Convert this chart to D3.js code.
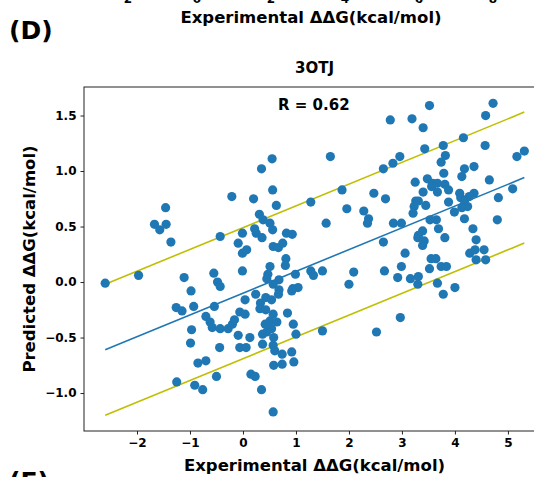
<!DOCTYPE html>
<html>
<head>
<meta charset="utf-8">
<script src="https://cdn.jsdelivr.net/npm/d3@7"></script>
<style>
	body { margin: 0; background: #fff; }
	svg { display: block; font-family: "DejaVu Sans", sans-serif; font-weight: bold; }
</style>
</head>
<body>
<script>

// experimental vs predicted ddG
var expX = [
	-2.60, -1.97, -1.46, -1.67, -1.57, -1.45, -1.36, -0.21, -0.43, -0.09,
	-0.01, -0.01, -0.01, -1.11, -0.55, -0.48, -0.43, -0.98, -1.26, -1.15,
	-0.93, -0.54, -0.70, -0.62, -0.58, -0.43, -0.28, -0.20, -0.16, -0.06,
	-0.09, -0.06, -0.97, -0.99, -0.44, -0.85, -0.70, -0.50, -1.25, -0.91,
	-0.76,
	0.55, 0.35, 0.56, 0.20, 0.63, 1.28, 0.31, 0.38, 0.51, 0.22,
	0.56, 0.25, 0.36, 0.82, 0.93, 0.57, 0.67, 0.75, 0.07, 0.81,
	0.80, 0.51, 0.47, 0.45, 0.68, 0.57, 0.68, 0.99, 1.28, 1.33,
	0.94, 1.04, 0.92,
	0.04, 0.04, 0.24, 0.43, 0.33, 0.54, 0.67, 0.32, 0.43, 0.57,
	0.51, 0.64, 0.42, 0.84, 0.95, 1.00, 0.54, 0.45, 0.37, 0.58,
	0.13, 0.06, 0.57, 0.37, 0.60, 0.74, 0.92, 0.58, 0.74, 0.96,
	0.15, 0.23, 0.35, 0.57,
	2.78, 3.19, 1.65, 2.96, 2.83, 2.65, 3.25, 3.26, 3.23, 3.21,
	1.87, 2.47, 2.69, 1.96, 2.28, 2.37, 2.35, 1.57, 2.84, 2.99,
	2.65, 3.30, 3.06, 2.99, 1.50, 2.09, 2.00, 2.67, 2.92, 3.16,
	3.30, 2.97, 1.50, 2.52, 3.31,
	4.72, 3.52, 4.58, 3.40, 4.16, 4.57, 3.78, 3.43, 5.31, 5.17,
	3.82, 3.74, 4.36, 4.18, 4.13, 3.79, 4.65, 3.48, 3.58, 3.67,
	3.81, 3.56, 3.67, 3.88, 3.40, 5.09, 4.09, 4.36, 4.27, 4.82,
	4.11, 4.18, 3.31, 3.88, 3.45, 4.24, 4.13, 3.99, 4.18, 3.53,
	3.65, 4.80, 3.69, 4.34, 3.39, 3.31, 3.81, 4.40, 3.42, 3.39,
	4.28, 4.38, 4.55, 4.40, 4.58, 3.55, 3.64, 3.74, 3.84, 3.52,
	3.67, 4.00, 3.78
];

var predY = [
	-0.01, 0.06, 0.67, 0.52, 0.47, 0.52, 0.36, 0.77, 0.41, 0.35,
	0.44, 0.26, 0.10, 0.04, 0.08, 0.00, -0.04, -0.08, -0.23, -0.26,
	-0.22, -0.22, -0.31, -0.36, -0.41, -0.42, -0.42, -0.38, -0.34, -0.27,
	-0.48, -0.59, -0.43, -0.55, -0.59, -0.73, -0.71, -0.85, -0.90, -0.93,
	-0.97,
	1.11, 1.02, 0.83, 0.75, 0.69, 0.72, 0.61, 0.56, 0.53, 0.48,
	0.47, 0.44, 0.40, 0.44, 0.43, 0.32, 0.31, 0.35, 0.29, 0.21,
	0.15, 0.14, 0.07, 0.03, 0.02, -0.02, -0.07, 0.07, 0.10, 0.06,
	-0.06, -0.05, -0.08,
	-0.16, -0.29, -0.11, -0.14, -0.19, -0.16, -0.11, -0.24, -0.25, -0.29,
	-0.35, -0.36, -0.38, -0.28, -0.38, -0.47, -0.42, -0.45, -0.47, -0.50,
	-0.50, -0.59, -0.57, -0.56, -0.62, -0.65, -0.63, -0.75, -0.74, -0.72,
	-0.83, -0.85, -0.97, -1.17,
	1.46, 1.47, 1.13, 1.13, 1.07, 1.02, 0.90, 0.73, 0.68, 0.62,
	0.83, 0.80, 0.75, 0.66, 0.64, 0.57, 0.53, 0.53, 0.53, 0.53,
	0.36, 0.40, 0.26, 0.14, 0.10, 0.09, -0.02, 0.10, 0.04, 0.03,
	-0.02, -0.32, -0.44, -0.45, 0.05,
	1.61, 1.59, 1.50, 1.39, 1.30, 1.23, 1.23, 1.20, 1.18, 1.13,
	1.14, 1.08, 1.04, 1.02, 0.95, 0.98, 0.92, 0.93, 0.89, 0.89,
	0.88, 0.86, 0.81, 0.83, 0.81, 0.84, 0.80, 0.80, 0.77, 0.76,
	0.76, 0.73, 0.73, 0.72, 0.69, 0.68, 0.67, 0.63, 0.57, 0.56,
	0.56, 0.56, 0.48, 0.48, 0.46, 0.42, 0.40, 0.38, 0.37, 0.33,
	0.26, 0.29, 0.29, 0.20, 0.20, 0.21, 0.21, 0.14, 0.14, 0.12,
	-0.01, -0.05, -0.11
];

var xTicks = [-2, -1, 0, 1, 2, 3, 4, 5];
var yTicks = [-1.0, -0.5, 0.0, 0.5, 1.0, 1.5];
var topTicks = [-2, 0, 2, 4, 6, 8];   // tick labels of the panel above (cut off)

var fitCoef = [0.196, -0.100];   // slope, intercept
var band = 0.59;

var panelTitle = '3OTJ',
	rText = 'R = 0.62',
	xLabel = 'Experimental ΔΔG(kcal/mol)',
	yLabel = 'Predicted ΔΔG(kcal/mol)';


var margin = {
	top: 87,
	left: 84
};

var width = 461,
	height = 344;

var svg = d3.select('body').append('svg')
	.attr('width', 534)
	.attr('height', 477);


// remains of the panel above
var xTop = d3.scaleLinear().domain([0, 8]).range([197, 493]);

svg.selectAll('.topTick')
	.data(topTicks)
	.enter().append('text')
		.attr('class', 'topTick')
		.attr('x', function(d) { return xTop(d); })
		.attr('y', 3)
		.attr('text-anchor', 'middle')
		.style('font-size', '12px')
		.text(d3.format('d'));

svg.append('text')
	.attr('x', 311)
	.attr('y', 23)
	.attr('text-anchor', 'middle')
	.style('font-size', '16.5px')
	.text(xLabel);

svg.append('text')
	.attr('x', 9)
	.attr('y', 39)
	.style('font-size', '25px')
	.text('(D)');

svg.append('text')
	.attr('x', 9)
	.attr('y', 490)
	.style('font-size', '25px')
	.text('(E)');


var g = svg.append('g')
	.attr('transform', 'translate(' + margin.left + ',' + margin.top + ')');

var x = d3.scaleLinear().domain([-3.0, 5.7]).range([0, width]),
	y = d3.scaleLinear().domain([-1.342, 1.757]).range([height, 0]);


// fit line and the +/- band
var xMin = d3.min(expX),
	xMax = d3.max(expX);

var fitLine = d3.line()
	.x(function(d) { return x(d); });

[[band, '#bfbf00'], [0, '#1f77b4'], [-band, '#bfbf00']].forEach(function(s) {
	g.append('path')
		.datum([xMin, xMax])
		.attr('d', fitLine.y(function(d) { return y(fitCoef[0] * d + fitCoef[1] + s[0]); }))
		.style('fill', 'none')
		.style('stroke', s[1])
		.style('stroke-width', '1.6px');
});


g.selectAll('.dot')
	.data(expX)
	.enter().append('circle')
		.attr('class', 'dot')
		.attr('cx', function(d) { return x(d); })
		.attr('cy', function(d, i) { return y(predY[i]); })
		.attr('r', 4.6)
		.style('fill', '#1f77b4');


// axes
var xAxis = g.append('g')
	.attr('transform', 'translate(0,' + height + ')')
	.call(d3.axisBottom(x).tickValues(xTicks).tickFormat(d3.format('d')).tickSize(3.5).tickPadding(4));

var yAxis = g.append('g')
	.call(d3.axisLeft(y).tickValues(yTicks).tickFormat(d3.format('.1f')).tickSize(3.5).tickPadding(4));

[xAxis, yAxis].forEach(function(a) {
	a.select('.domain').remove();
	a.selectAll('line').style('stroke', '#222');
	a.selectAll('text')
		.style('font-family', '"DejaVu Sans", sans-serif')
		.style('font-weight', 'bold')
		.style('font-size', '12px')
		.style('fill', '#000');
});

g.append('rect')
	.attr('width', width)
	.attr('height', height)
	.style('fill', 'none')
	.style('stroke', '#222')
	.style('stroke-width', '1px');


svg.append('text')
	.attr('x', margin.left + width / 2)
	.attr('y', 471)
	.attr('text-anchor', 'middle')
	.style('font-size', '16.5px')
	.text(xLabel);

svg.append('text')
	.attr('transform', 'rotate(-90)')
	.attr('x', 0 - (margin.top + height / 2))
	.attr('y', 35)
	.attr('text-anchor', 'middle')
	.style('font-size', '16.5px')
	.text(yLabel);

svg.append('text')
	.attr('x', margin.left + width / 2)
	.attr('y', 73)
	.attr('text-anchor', 'middle')
	.style('font-size', '15px')
	.text(panelTitle);

svg.append('text')
	.attr('x', 278)
	.attr('y', 110)
	.style('font-size', '15px')
	.text(rText);

</script>
</body>
</html>
